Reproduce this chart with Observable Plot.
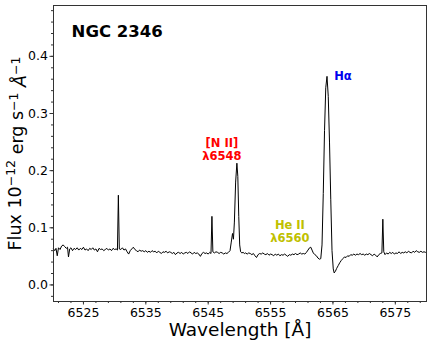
<!DOCTYPE html>
<html>
<head>
<meta charset="utf-8">
<script src="https://cdn.jsdelivr.net/npm/d3@7"></script>
<script src="https://cdn.jsdelivr.net/npm/@observablehq/plot@0.6"></script>
<style>
  html, body { margin: 0; padding: 0; background: white; }
  svg { display: block; }
</style>
</head>
<body>
<div id="chart"></div>
<script>
// Wavelength (Å) and flux (10^-12 erg s^-1 Å^-1)
const wave = [
  6520.2, 6520.4, 6520.6, 6520.8, 6521.0, 6521.25, 6521.5, 6521.75, 6522.0, 6522.25,
  6522.45, 6522.6, 6522.8, 6523.0, 6523.25, 6523.5, 6523.75, 6524.0, 6524.25, 6524.5,
  6524.75, 6525.0, 6525.25, 6525.5, 6525.75, 6526.0, 6526.25, 6526.5, 6526.75, 6527.0,
  6527.25, 6527.5, 6527.75, 6528.0, 6528.25, 6528.5, 6528.75, 6529.0, 6529.25, 6529.5,
  6529.75, 6530.0, 6530.25, 6530.45, 6530.6, 6530.75, 6531.0, 6531.25, 6531.5, 6531.75,
  6532.0, 6532.25, 6532.5, 6532.75, 6533.0, 6533.25, 6533.5, 6533.75, 6534.0, 6534.25,
  6534.5, 6534.75, 6535.0, 6535.25, 6535.5, 6535.75, 6536.0, 6536.25, 6536.5, 6536.75,
  6537.0, 6537.25, 6537.5, 6537.75, 6538.0, 6538.25, 6538.5, 6538.75, 6539.0, 6539.25,
  6539.5, 6539.75, 6540.0, 6540.25, 6540.5, 6540.75, 6541.0, 6541.25, 6541.5, 6541.75,
  6542.0, 6542.25, 6542.5, 6542.75, 6543.0, 6543.25, 6543.5, 6543.75, 6544.0, 6544.25,
  6544.5, 6544.75, 6545.0, 6545.25, 6545.45, 6545.6, 6545.75, 6546.0, 6546.25, 6546.5,
  6546.75, 6547.0, 6547.25, 6547.5, 6547.75, 6548.0, 6548.25, 6548.5, 6548.7, 6548.9,
  6549.05, 6549.2, 6549.4, 6549.6, 6549.75, 6549.9, 6550.05, 6550.2, 6550.4, 6550.6,
  6550.8, 6551.0, 6551.25, 6551.5, 6551.75, 6552.0, 6552.25, 6552.5, 6552.75, 6553.0,
  6553.25, 6553.5, 6553.75, 6554.0, 6554.25, 6554.5, 6554.75, 6555.0, 6555.25, 6555.5,
  6555.75, 6556.0, 6556.25, 6556.5, 6556.75, 6557.0, 6557.25, 6557.5, 6557.75, 6558.0,
  6558.25, 6558.5, 6558.75, 6559.0, 6559.25, 6559.5, 6559.75, 6560.0, 6560.25, 6560.5,
  6560.75, 6561.0, 6561.25, 6561.45, 6561.65, 6561.85, 6562.1, 6562.35, 6562.6, 6562.85,
  6563.05, 6563.25, 6563.45, 6563.65, 6563.85, 6564.05, 6564.25, 6564.45, 6564.65, 6564.85,
  6565.05, 6565.2, 6565.4, 6565.6, 6565.85, 6566.1, 6566.35, 6566.6, 6566.85, 6567.1,
  6567.35, 6567.6, 6567.85, 6568.1, 6568.35, 6568.6, 6568.85, 6569.1, 6569.35, 6569.6,
  6569.85, 6570.1, 6570.35, 6570.6, 6570.85, 6571.1, 6571.35, 6571.6, 6571.85, 6572.1,
  6572.35, 6572.6, 6572.85, 6573.0, 6573.15, 6573.35, 6573.6, 6573.85, 6574.1, 6574.35,
  6574.6, 6574.85, 6575.1, 6575.35, 6575.6, 6575.85, 6576.1, 6576.35, 6576.6, 6576.85,
  6577.1, 6577.35, 6577.6, 6577.85, 6578.1, 6578.35, 6578.6, 6578.85, 6579.1, 6579.35,
  6579.6, 6579.85, 6580.0
];
const flux = [
  0.063, 0.060, 0.064, 0.051, 0.065, 0.062, 0.068, 0.070, 0.067, 0.064,
  0.066, 0.049, 0.063, 0.065, 0.060, 0.064, 0.062, 0.065, 0.061, 0.064,
  0.062, 0.066, 0.061, 0.063, 0.060, 0.064, 0.062, 0.065, 0.061, 0.063,
  0.058, 0.064, 0.062, 0.063, 0.060, 0.062, 0.064, 0.061, 0.063, 0.060,
  0.064, 0.062, 0.063, 0.061, 0.157, 0.063, 0.062, 0.065, 0.061, 0.063,
  0.058, 0.054, 0.060, 0.063, 0.066, 0.062, 0.060, 0.058, 0.061, 0.059,
  0.060, 0.058, 0.060, 0.057, 0.059, 0.057, 0.060, 0.058, 0.059, 0.056,
  0.059, 0.057, 0.055, 0.058, 0.057, 0.059, 0.056, 0.058, 0.057, 0.055,
  0.057, 0.053, 0.056, 0.057, 0.055, 0.057, 0.054, 0.056, 0.057, 0.055,
  0.058, 0.056, 0.054, 0.057, 0.055, 0.056, 0.054, 0.050, 0.055, 0.057,
  0.055, 0.056, 0.054, 0.057, 0.055, 0.120, 0.058, 0.056, 0.058, 0.057,
  0.055, 0.057, 0.056, 0.054, 0.056, 0.055, 0.057, 0.060, 0.075, 0.090,
  0.080, 0.110, 0.180, 0.213, 0.190, 0.120, 0.070, 0.058, 0.056, 0.057,
  0.055, 0.056, 0.054, 0.056, 0.055, 0.053, 0.055, 0.051, 0.048, 0.053,
  0.055, 0.054, 0.056, 0.054, 0.053, 0.055, 0.052, 0.054, 0.053, 0.051,
  0.054, 0.052, 0.054, 0.051, 0.053, 0.052, 0.054, 0.052, 0.050, 0.053,
  0.052, 0.054, 0.053, 0.055, 0.053, 0.054, 0.056, 0.054, 0.055, 0.054,
  0.057, 0.061, 0.065, 0.066, 0.061, 0.056, 0.053, 0.051, 0.047, 0.045,
  0.046, 0.070, 0.160, 0.270, 0.345, 0.365, 0.330, 0.250, 0.150, 0.060,
  0.028, 0.021, 0.024, 0.029, 0.034, 0.039, 0.043, 0.046, 0.049, 0.048,
  0.051, 0.050, 0.053, 0.052, 0.054, 0.052, 0.054, 0.053, 0.055, 0.053,
  0.054, 0.052, 0.054, 0.053, 0.055, 0.053, 0.051, 0.054, 0.052, 0.049,
  0.053, 0.055, 0.056, 0.115, 0.058, 0.053, 0.056, 0.054, 0.057, 0.055,
  0.057, 0.054, 0.056, 0.055, 0.058, 0.055, 0.057, 0.056, 0.058, 0.056,
  0.059, 0.057, 0.056, 0.059, 0.057, 0.060, 0.058, 0.057, 0.059, 0.057,
  0.058, 0.057, 0.058
];

const xTicks = [6525, 6535, 6545, 6555, 6565, 6575];
const yTicks = [0.0, 0.1, 0.2, 0.3, 0.4];

// Annotations (text and anchor in data units)
const noteText  = ["[N II]", "λ6548", "Hα", "He II", "λ6560"];
const noteWave  = [6547.2, 6547.2, 6565.2, 6558.1, 6558.1];
const noteFlux  = [0.241, 0.219, 0.358, 0.098, 0.076];
const noteColor = ["#ff0000", "#ff0000", "#0000ee", "#c0c000", "#c0c000"];

const titleText = "NGC 2346";
const titleWave = 6523.1;
const titleFlux = 0.434;

const xLabel = "Wavelength [Å]";
const yLabel = "Flux 10⁻¹² erg s⁻¹ Å⁻¹";

const spectrum = wave.map((w, i) => ({w, f: flux[i]}));
const notes = noteText.map((t, i) => ({t, w: noteWave[i], f: noteFlux[i], c: noteColor[i]}));

const xMinor = d3.range(6521, 6580, 2);
const yMinor = d3.range(-0.02, 0.49, 0.02);

const chart = Plot.plot({
  width: 430,
  height: 346,
  marginLeft: 53,
  marginRight: 4,
  marginTop: 5,
  marginBottom: 45,
  style: {fontFamily: "DejaVu Sans", fontSize: "12.5px", background: "white", color: "black"},
  x: {domain: [6520.2, 6580], label: null},
  y: {domain: [-0.029, 0.489], label: null},
  marks: [
    Plot.axisX(xMinor, {tickSize: 2, tickFormat: () => "", label: null, stroke: "#333"}),
    Plot.axisX(xTicks, {tickSize: 3.5, tickPadding: 3, tickFormat: d3.format("d"), label: null, stroke: "#333", fontSize: 12.5}),
    Plot.axisY(yMinor, {tickSize: 2, tickFormat: () => "", label: null, stroke: "#333"}),
    Plot.axisY(yTicks, {tickSize: 3.5, tickPadding: 2, tickFormat: d3.format(".1f"), label: null, stroke: "#333", fontSize: 12.5}),
    Plot.line(spectrum, {x: "w", y: "f", stroke: "black", strokeWidth: 1}),
    Plot.frame({stroke: "#333", strokeWidth: 1}),
    Plot.text([titleText], {x: titleWave, y: titleFlux, text: d => d, textAnchor: "start", lineAnchor: "bottom", fontSize: 16.5, fontWeight: "bold", fill: "black"}),
    Plot.text(notes.filter(d => d.t !== "Hα"), {x: "w", y: "f", text: "t", fill: "c", textAnchor: "middle", lineAnchor: "bottom", fontSize: 11.5, fontWeight: "bold"}),
    Plot.text(notes.filter(d => d.t === "Hα"), {x: "w", y: "f", text: "t", fill: "c", textAnchor: "start", lineAnchor: "bottom", fontSize: 11.5, fontWeight: "bold"}),
    Plot.text([xLabel], {frameAnchor: "bottom", textAnchor: "middle", lineAnchor: "middle", dy: 29, text: d => d, fontSize: 18.5, fill: "black"}),
    Plot.text([yLabel], {frameAnchor: "left", textAnchor: "middle", lineAnchor: "middle", dx: -38, rotate: -90, text: d => d, fontSize: 17.5, fill: "black"})
  ]
});
document.getElementById("chart").appendChild(chart);

// Render the y label with real superscripts (still plain text)
d3.select(chart).selectAll("text").filter(function() { return this.textContent === yLabel; }).each(function() {
  const t = d3.select(this);
  t.text(null);
  const parts = [
    ["Flux 10", false], ["−12", true], [" erg s", false], ["−1", true], [" ", false], ["Å", false], ["−1", true]
  ];
  let up = false;
  for (const [s, sup] of parts) {
    const ts = t.append("tspan").text(s);
    if (sup && !up) { ts.attr("dy", "-0.45em").attr("font-size", "12.5px"); up = true; }
    else if (sup) { ts.attr("font-size", "12.5px"); }
    else if (!sup && up) { ts.attr("dy", "0.45em"); up = false; }
    if (s === "Å") ts.attr("font-style", "italic");
  }
});
</script>
</body>
</html>
